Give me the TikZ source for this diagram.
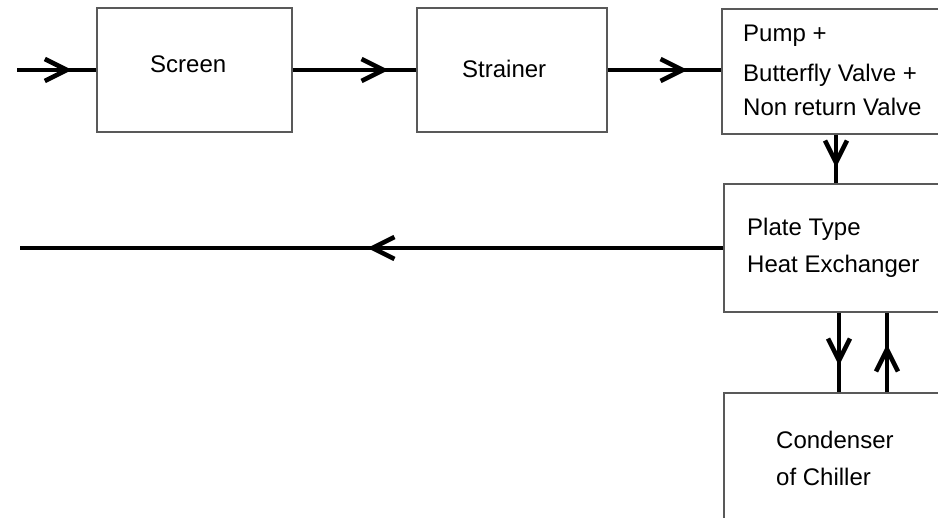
\documentclass[tikz,border=0pt]{standalone}
\usepackage{fontspec}
\setmainfont{Liberation Sans}
\usetikzlibrary{arrows.meta,decorations.markings}
\begin{document}
\begin{tikzpicture}[x=1pt,y=-1pt,
  box/.style={draw=black!65, line width=1.4pt, inner sep=0pt, fill=none},
  txt/.style={anchor=base west, inner sep=0pt, font=\fontsize{24}{29}\selectfont},
  flow/.style={line width=3.3pt, draw=black, postaction={decorate},
    decoration={markings, mark=at position #1 with {\arrow{Straight Barb[length=22pt,width=22pt,line width=4.6pt]}}}}]
\useasboundingbox (0,0) rectangle (938,518);
\clip (0,0) rectangle (938,518);
% boxes
\node[box, minimum width=195pt, minimum height=124pt] (screen) at (194.5,70) {};
\node[box, minimum width=190pt, minimum height=124pt] (strainer) at (512,70) {};
\node[box, minimum width=228pt, minimum height=125pt] (pump) at (836,71.5) {};
\node[box, minimum width=230pt, minimum height=128pt] (hx) at (839,248) {};
\node[box, minimum width=230pt, minimum height=167pt] (cond) at (839,476.5) {};
% texts
\node[txt] (tscreen) at (150,73) {Screen};
\node[txt] (tstrainer) at (462,78) {Strainer};
\node[txt] (tpump1) at (743,42) {Pump +};
\node[txt] (tpump2) at (743,82) {Butterfly Valve +};
\node[txt] (tpump3) at (743,116) {Non return Valve};
\node[txt] (thx1) at (747,236) {Plate Type};
\node[txt] (thx2) at (747,273) {Heat Exchanger};
\node[txt] (tcond1) at (776,449) {Condenser};
\node[txt] (tcond2) at (776,486) {of Chiller};
% connectors
\coordinate (in) at (17,70);
\coordinate (out) at (20,248);
\draw[flow=55pt] (in) -- (screen.west);
\draw[flow=96pt] (screen.east) -- (strainer.west);
\draw[flow=80pt] (strainer.east) -- (strainer.east -| pump.west);
\draw[flow=33pt] (pump.south) -- (pump.south |- hx.north);
\draw[flow=356pt] (hx.west) -- (out);
\draw[flow=53pt] (hx.south) -- (hx.south |- cond.north);
\draw[flow=48pt] ([xshift=48pt]cond.north) -- ([xshift=48pt]cond.north |- hx.south);
\end{tikzpicture}
\end{document}
